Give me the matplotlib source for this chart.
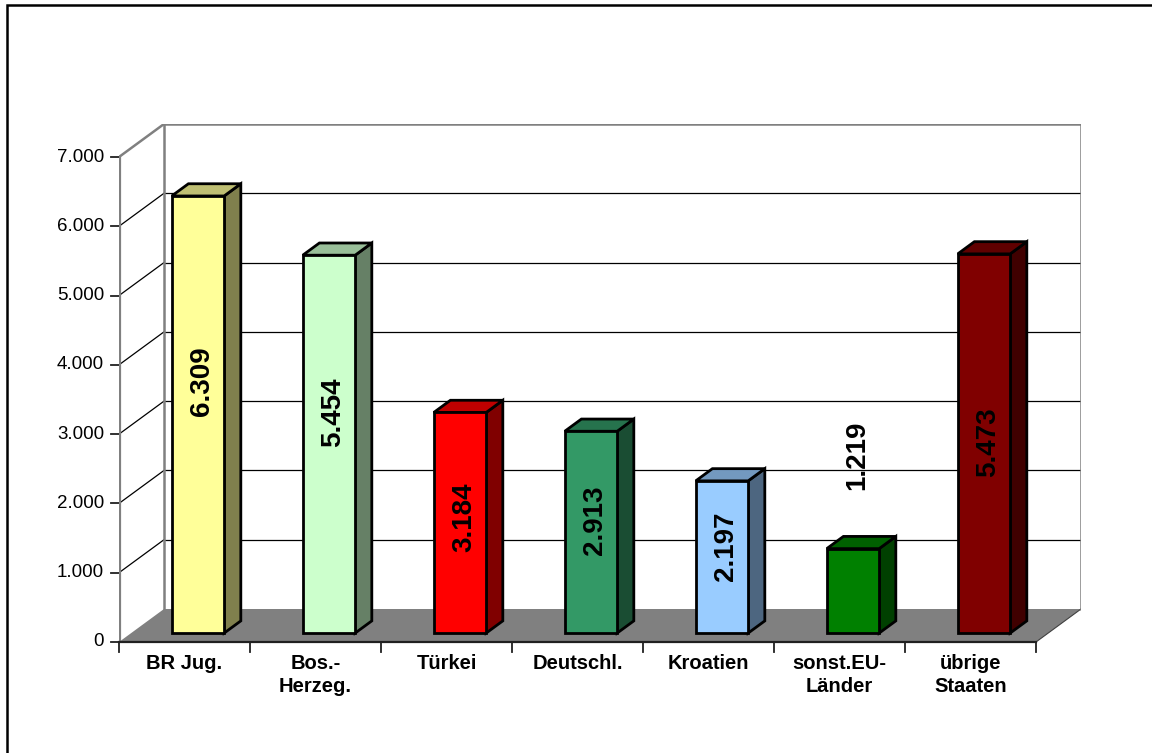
import numpy as np
import matplotlib.pyplot as plt
from matplotlib.patches import Polygon, Rectangle

plt.rcParams['font.family'] = ['Liberation Sans', 'DejaVu Sans']

# Herkunftsstaaten und Anzahl
laender = ['BR Jug.', 'Bos.-\nHerzeg.', 'Türkei', 'Deutschl.', 'Kroatien',
           'sonst.EU-\nLänder', 'übrige\nStaaten']
anzahl = [6309, 5454, 3184, 2913, 2197, 1219, 5473]
beschriftung = ['6.309', '5.454', '3.184', '2.913', '2.197', '1.219', '5.473']

# Position der Beschriftung (Höhe in Achseneinheiten)
label_pos = [3766, 3319, 1804, 1760, 1385, 2698, 2886]

farben = ['#FFFF99', '#CCFFCC', '#FF0000', '#339966', '#99CCFF', '#008000', '#800000']

y_ticks = [0, 1000, 2000, 3000, 4000, 5000, 6000, 7000]
y_ticklabels = ['0', '1.000', '2.000', '3.000', '4.000', '5.000', '6.000', '7.000']


def shade(col, f):
    r, g, b = [int(col[i:i + 2], 16) / 255 for i in (1, 3, 5)]
    return (r * f, g * f, b * f)


W, H = 1152, 753
fig = plt.figure(figsize=(W / 100, H / 100), dpi=100)

# Tiefe der 3D-Darstellung (in Datenkoordinaten)
n = len(anzahl)
ymax = 7000
px_per_cat = 131.0
px_per_val = 485 / ymax
dx = 45 / px_per_cat
dy = 33 / px_per_val

x0_px, y0_px = 119, 642
ax = fig.add_axes([x0_px / W, (H - y0_px) / H,
                   (n + dx) * px_per_cat / W, (ymax + dy) * px_per_val / H])
ax.set_xlim(0, n + dx)
ax.set_ylim(0, ymax + dy)
ax.axis('off')

grau = '#808080'

# Rückwand: Gitternetzlinien
for v in y_ticks[1:-1]:
    ax.plot([dx, n + dx], [v + dy, v + dy], color='black', lw=0.9, zorder=1)
    ax.plot([0, dx], [v, v + dy], color='black', lw=0.9, zorder=1)

# Boden
ax.add_patch(Polygon([(0, 0), (n, 0), (n + dx, dy), (dx, dy)], closed=True,
                     facecolor=grau, edgecolor='none', zorder=2))
ax.plot([n, n + dx], [0, dy], color='#404040', lw=0.8, zorder=2)

# Wandrahmen
ax.plot([dx, dx, n + dx, n + dx], [dy, ymax + dy, ymax + dy, dy], color=grau, lw=1.8, zorder=2)
ax.plot([0, dx], [ymax, ymax + dy], color=grau, lw=1.8, zorder=2)
ax.plot([0, 0], [0, ymax], color=grau, lw=2.3, zorder=3)

# Achsen und Striche
ax.plot([0, n], [0, 0], color='#202020', lw=1.6, zorder=3, clip_on=False)
for i in range(n + 1):
    ax.plot([i, i], [0, -10 / px_per_val], color='#202020', lw=1.3, clip_on=False)
for v, lab in zip(y_ticks, y_ticklabels):
    ax.plot([0, -8 / px_per_cat], [v, v], color='#202020', lw=1.3, clip_on=False)
    ax.text(-15 / px_per_cat, v, lab, ha='right', va='center', fontsize=13.5)

for i, lab in enumerate(laender):
    ax.text(i + 0.5, -12 / px_per_val, lab, ha='center', va='top', fontsize=14.5,
            fontweight='bold', linespacing=1.25)

# Säulen
f0 = 0.27
fb = 0.37
b_off = 0.31
b_w = 0.40
for i, (v, c) in enumerate(zip(anzahl, farben)):
    xl = i + f0 * dx + b_off
    xr = xl + b_w
    yb = f0 * dy
    ddx, ddy = fb * dx, fb * dy
    front = Polygon([(xl, yb), (xr, yb), (xr, yb + v), (xl, yb + v)], closed=True,
                    facecolor=c, edgecolor='black', lw=2.0, zorder=5, joinstyle='miter')
    top = Polygon([(xl, yb + v), (xr, yb + v), (xr + ddx, yb + v + ddy), (xl + ddx, yb + v + ddy)],
                  closed=True, facecolor=shade(c, 0.75), edgecolor='black', lw=2.0, zorder=5)
    side = Polygon([(xr, yb), (xr + ddx, yb + ddy), (xr + ddx, yb + v + ddy), (xr, yb + v)],
                   closed=True, facecolor=shade(c, 0.5), edgecolor='black', lw=2.0, zorder=5)
    for p in (side, top, front):
        ax.add_patch(p)
    ax.text((xl + xr) / 2 + 0.03, label_pos[i], beschriftung[i], rotation=90,
            ha='center', va='center', fontsize=20, fontweight='bold', zorder=6)

# Rahmen um das Diagramm
fig.add_artist(Rectangle((7 / W, -0.1), 1.2, (H - 5) / H + 0.1, transform=fig.transFigure,
                         fill=False, edgecolor='black', lw=1.8))

fig.savefig('out.png', dpi=100)
